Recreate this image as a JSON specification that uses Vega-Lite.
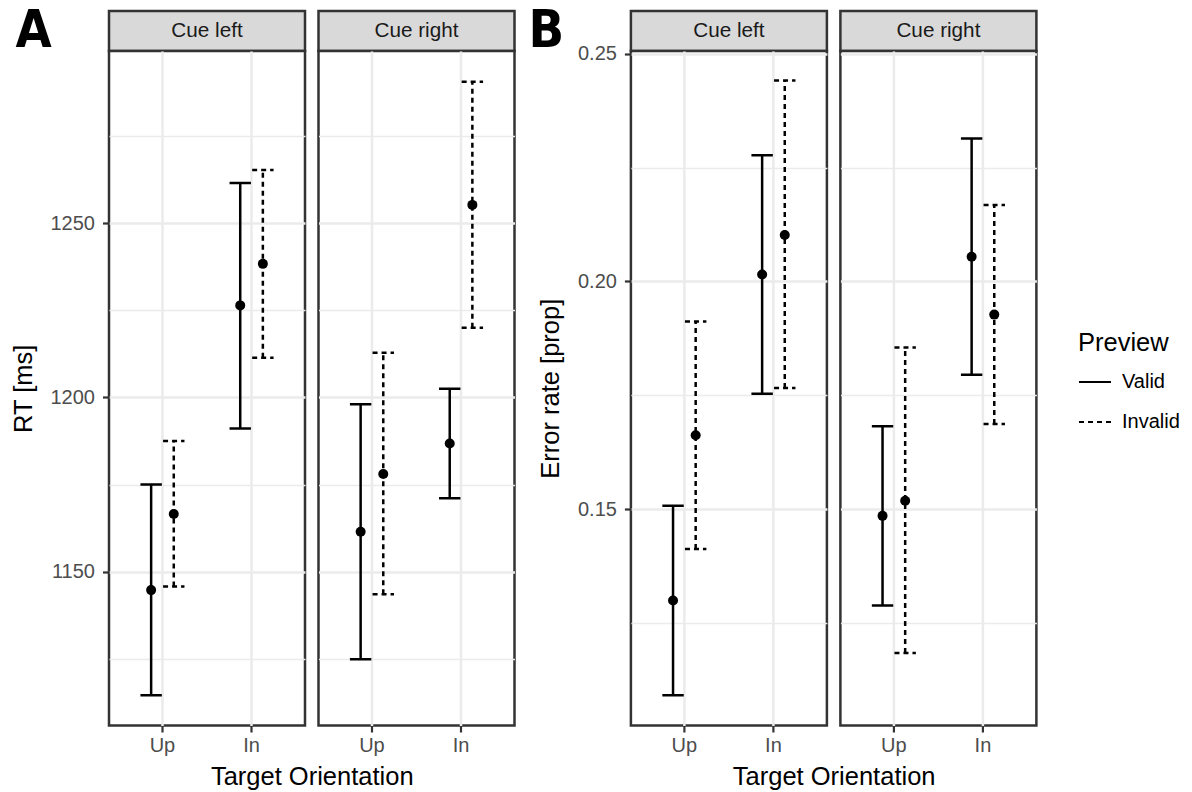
{
  "$schema": "https://vega.github.io/schema/vega-lite/v6.json",
  "padding": {"left": 9, "top": 3, "right": 5, "bottom": 0},
  "spacing": 10.9,
  "datasets": {
    "strips": [{"cue": "Cue left"}, {"cue": "Cue right"}],
    "rt": [
      {"cue": "Cue left", "orientation": "Up", "preview": "Valid", "mean": 1144.8, "lower": 1114.7, "upper": 1175.1},
      {"cue": "Cue left", "orientation": "Up", "preview": "Invalid", "mean": 1166.6, "lower": 1145.8, "upper": 1187.5},
      {"cue": "Cue left", "orientation": "In", "preview": "Valid", "mean": 1226.4, "lower": 1191.1, "upper": 1261.5},
      {"cue": "Cue left", "orientation": "In", "preview": "Invalid", "mean": 1238.3, "lower": 1211.4, "upper": 1265.2},
      {"cue": "Cue right", "orientation": "Up", "preview": "Valid", "mean": 1161.5, "lower": 1125.0, "upper": 1198.1},
      {"cue": "Cue right", "orientation": "Up", "preview": "Invalid", "mean": 1178.1, "lower": 1143.6, "upper": 1212.8},
      {"cue": "Cue right", "orientation": "In", "preview": "Valid", "mean": 1186.8, "lower": 1171.1, "upper": 1202.5},
      {"cue": "Cue right", "orientation": "In", "preview": "Invalid", "mean": 1255.2, "lower": 1220.0, "upper": 1290.5}
    ],
    "err": [
      {"cue": "Cue left", "orientation": "Up", "preview": "Valid", "mean": 0.1299, "lower": 0.1091, "upper": 0.1507},
      {"cue": "Cue left", "orientation": "Up", "preview": "Invalid", "mean": 0.1662, "lower": 0.1412, "upper": 0.1912},
      {"cue": "Cue left", "orientation": "In", "preview": "Valid", "mean": 0.2015, "lower": 0.1753, "upper": 0.2277},
      {"cue": "Cue left", "orientation": "In", "preview": "Invalid", "mean": 0.2102, "lower": 0.1766, "upper": 0.2441},
      {"cue": "Cue right", "orientation": "Up", "preview": "Valid", "mean": 0.1485, "lower": 0.1288, "upper": 0.1682},
      {"cue": "Cue right", "orientation": "Up", "preview": "Invalid", "mean": 0.1518, "lower": 0.1184, "upper": 0.1855},
      {"cue": "Cue right", "orientation": "In", "preview": "Valid", "mean": 0.2054, "lower": 0.1795, "upper": 0.2314},
      {"cue": "Cue right", "orientation": "In", "preview": "Invalid", "mean": 0.1927, "lower": 0.1687, "upper": 0.2168}
    ]
  },
  "hconcat": [
    {
      "columns": 2,
      "align": "each",
      "bounds": "flush",
      "spacing": {"row": 0, "column": 13.5},
      "resolve": {"scale": {"x": "independent", "y": "independent", "strokeDash": "shared"}, "legend": {"strokeDash": "shared"}},
      "concat": [
        {
          "width": 196, "height": 40,
          "view": {"fill": "#D9D9D9", "stroke": "#333333", "strokeWidth": 2.5},
          "title": {"text": "A", "orient": "left", "angle": 0, "anchor": "middle", "align": "right", "baseline": "middle", "offset": 21, "fontSize": 52, "font": "DejaVu Sans Condensed", "fontWeight": "bold", "color": "black"},
          "data": {"name": "strips"},
          "transform": [{"filter": "datum.cue === 'Cue left'"}],
          "mark": {"type": "text", "fontSize": 20.7, "color": "#1A1A1A", "baseline": "middle"},
          "encoding": {"text": {"field": "cue", "type": "nominal"}}
        },
        {
          "width": 196, "height": 40,
          "view": {"fill": "#D9D9D9", "stroke": "#333333", "strokeWidth": 2.5},
          "data": {"name": "strips"},
          "transform": [{"filter": "datum.cue === 'Cue right'"}],
          "mark": {"type": "text", "fontSize": 20.7, "color": "#1A1A1A", "baseline": "middle"},
          "encoding": {"text": {"field": "cue", "type": "nominal"}}
        },
        {
          "width": 196, "height": 674.5,
          "data": {"name": "rt"},
          "transform": [{"filter": "datum.cue === 'Cue left'"}],
          "encoding": {
            "x": {"field": "orientation", "type": "nominal", "sort": ["Up", "In"], "title": "Target Orientation",
                  "scale": {"type": "band", "paddingInner": 0.492, "paddingOuter": 0.346},
                  "axis": {"titleX": 202.75, "titleAlign": "center"}},
            "xOffset": {"field": "preview", "type": "nominal", "sort": ["Valid", "Invalid"], "scale": {"paddingInner": 0, "paddingOuter": 0}}
          },
          "layer": [
            {
              "mark": {"type": "rule", "color": "black", "strokeWidth": 2.5},
              "encoding": {
                "y": {"field": "lower", "type": "quantitative", "title": "RT [ms]",
                      "scale": {"domain": [1106, 1299.3], "nice": false, "zero": false},
                      "axis": {"values": [1125, 1150, 1175, 1200, 1225, 1250, 1275], "format": "d",
                               "labelExpr": "datum.value % 50 === 0 ? datum.label : ''",
                               "gridWidth": {"condition": {"test": "datum.value % 50 !== 0", "value": 1.3}, "value": 2.5},
                               "tickOpacity": {"condition": {"test": "datum.value % 50 !== 0", "value": 0}, "value": 1}}},
                "y2": {"field": "upper"},
                "strokeDash": {"field": "preview", "type": "nominal",
                               "scale": {"domain": ["Valid", "Invalid"], "range": [[1, 0], [5, 4]]},
                               "legend": {"title": "Preview", "orient": "none", "legendX": 969, "legendY": 319.5}}
              }
            },
            {
              "mark": {"type": "point", "shape": "M-1,0L1,0", "size": 458, "filled": false, "opacity": 1, "color": "black", "strokeWidth": 2.5},
              "encoding": {
                "y": {"field": "lower", "type": "quantitative", "title": "RT [ms]"},
                "strokeDash": {"condition": {"test": "datum.preview === 'Invalid'", "value": [5, 4]}, "value": [1, 0]}
              }
            },
            {
              "mark": {"type": "point", "shape": "M-1,0L1,0", "size": 458, "filled": false, "opacity": 1, "color": "black", "strokeWidth": 2.5},
              "encoding": {
                "y": {"field": "upper", "type": "quantitative", "title": "RT [ms]"},
                "strokeDash": {"condition": {"test": "datum.preview === 'Invalid'", "value": [5, 4]}, "value": [1, 0]}
              }
            },
            {
              "mark": {"type": "point", "shape": "circle", "size": 100, "filled": true, "opacity": 1, "color": "black"},
              "encoding": {"y": {"field": "mean", "type": "quantitative", "title": "RT [ms]"}}
            }
          ]
        },
        {
          "width": 196, "height": 674.5,
          "data": {"name": "rt"},
          "transform": [{"filter": "datum.cue === 'Cue right'"}],
          "encoding": {
            "x": {"field": "orientation", "type": "nominal", "sort": ["Up", "In"], "title": null,
                  "scale": {"type": "band", "paddingInner": 0.492, "paddingOuter": 0.346}},
            "xOffset": {"field": "preview", "type": "nominal", "sort": ["Valid", "Invalid"], "scale": {"paddingInner": 0, "paddingOuter": 0}}
          },
          "layer": [
            {
              "mark": {"type": "rule", "color": "black", "strokeWidth": 2.5},
              "encoding": {
                "y": {"field": "lower", "type": "quantitative",
                      "scale": {"domain": [1106, 1299.3], "nice": false, "zero": false},
                      "axis": {"values": [1125, 1150, 1175, 1200, 1225, 1250, 1275], "title": null, "labels": false, "ticks": false,
                               "gridWidth": {"condition": {"test": "datum.value % 50 !== 0", "value": 1.3}, "value": 2.5}}},
                "y2": {"field": "upper"},
                "strokeDash": {"field": "preview", "type": "nominal",
                               "scale": {"domain": ["Valid", "Invalid"], "range": [[1, 0], [5, 4]]},
                               "legend": {"title": "Preview", "orient": "none", "legendX": 969, "legendY": 319.5}}
              }
            },
            {
              "mark": {"type": "point", "shape": "M-1,0L1,0", "size": 458, "filled": false, "opacity": 1, "color": "black", "strokeWidth": 2.5},
              "encoding": {
                "y": {"field": "lower", "type": "quantitative"},
                "strokeDash": {"condition": {"test": "datum.preview === 'Invalid'", "value": [5, 4]}, "value": [1, 0]}
              }
            },
            {
              "mark": {"type": "point", "shape": "M-1,0L1,0", "size": 458, "filled": false, "opacity": 1, "color": "black", "strokeWidth": 2.5},
              "encoding": {
                "y": {"field": "upper", "type": "quantitative"},
                "strokeDash": {"condition": {"test": "datum.preview === 'Invalid'", "value": [5, 4]}, "value": [1, 0]}
              }
            },
            {
              "mark": {"type": "point", "shape": "circle", "size": 100, "filled": true, "opacity": 1, "color": "black"},
              "encoding": {"y": {"field": "mean", "type": "quantitative"}}
            }
          ]
        }
      ]
    },
    {
      "columns": 2,
      "align": "each",
      "bounds": "flush",
      "spacing": {"row": 0, "column": 13.5},
      "resolve": {"scale": {"x": "independent", "y": "independent", "strokeDash": "shared"}, "legend": {"strokeDash": "shared"}},
      "concat": [
        {
          "width": 196, "height": 40,
          "view": {"fill": "#D9D9D9", "stroke": "#333333", "strokeWidth": 2.5},
          "title": {"text": "B", "orient": "left", "angle": 0, "anchor": "middle", "align": "right", "baseline": "middle", "offset": 31, "fontSize": 52, "font": "DejaVu Sans Condensed", "fontWeight": "bold", "color": "black"},
          "data": {"name": "strips"},
          "transform": [{"filter": "datum.cue === 'Cue left'"}],
          "mark": {"type": "text", "fontSize": 20.7, "color": "#1A1A1A", "baseline": "middle"},
          "encoding": {"text": {"field": "cue", "type": "nominal"}}
        },
        {
          "width": 196, "height": 40,
          "view": {"fill": "#D9D9D9", "stroke": "#333333", "strokeWidth": 2.5},
          "data": {"name": "strips"},
          "transform": [{"filter": "datum.cue === 'Cue right'"}],
          "mark": {"type": "text", "fontSize": 20.7, "color": "#1A1A1A", "baseline": "middle"},
          "encoding": {"text": {"field": "cue", "type": "nominal"}}
        },
        {
          "width": 196, "height": 674.5,
          "data": {"name": "err"},
          "transform": [{"filter": "datum.cue === 'Cue left'"}],
          "encoding": {
            "x": {"field": "orientation", "type": "nominal", "sort": ["Up", "In"], "title": "Target Orientation",
                  "scale": {"type": "band", "paddingInner": 0.492, "paddingOuter": 0.346},
                  "axis": {"titleX": 202.75, "titleAlign": "center"}},
            "xOffset": {"field": "preview", "type": "nominal", "sort": ["Valid", "Invalid"], "scale": {"paddingInner": 0, "paddingOuter": 0}}
          },
          "layer": [
            {
              "mark": {"type": "rule", "color": "black", "strokeWidth": 2.5},
              "encoding": {
                "y": {"field": "lower", "type": "quantitative", "title": "Error rate [prop]",
                      "scale": {"domain": [0.10245, 0.2506], "nice": false, "zero": false},
                      "axis": {"values": [0.125, 0.15, 0.175, 0.2, 0.225, 0.25], "format": ".2f",
                               "labelExpr": "round(datum.value * 1000) % 50 === 0 ? datum.label : ''",
                               "gridWidth": {"condition": {"test": "round(datum.value * 1000) % 50 !== 0", "value": 1.3}, "value": 2.5},
                               "tickOpacity": {"condition": {"test": "round(datum.value * 1000) % 50 !== 0", "value": 0}, "value": 1}}},
                "y2": {"field": "upper"},
                "strokeDash": {"field": "preview", "type": "nominal",
                               "scale": {"domain": ["Valid", "Invalid"], "range": [[1, 0], [5, 4]]},
                               "legend": {"title": "Preview", "orient": "none", "legendX": 969, "legendY": 319.5}}
              }
            },
            {
              "mark": {"type": "point", "shape": "M-1,0L1,0", "size": 458, "filled": false, "opacity": 1, "color": "black", "strokeWidth": 2.5},
              "encoding": {
                "y": {"field": "lower", "type": "quantitative", "title": "Error rate [prop]"},
                "strokeDash": {"condition": {"test": "datum.preview === 'Invalid'", "value": [5, 4]}, "value": [1, 0]}
              }
            },
            {
              "mark": {"type": "point", "shape": "M-1,0L1,0", "size": 458, "filled": false, "opacity": 1, "color": "black", "strokeWidth": 2.5},
              "encoding": {
                "y": {"field": "upper", "type": "quantitative", "title": "Error rate [prop]"},
                "strokeDash": {"condition": {"test": "datum.preview === 'Invalid'", "value": [5, 4]}, "value": [1, 0]}
              }
            },
            {
              "mark": {"type": "point", "shape": "circle", "size": 100, "filled": true, "opacity": 1, "color": "black"},
              "encoding": {"y": {"field": "mean", "type": "quantitative", "title": "Error rate [prop]"}}
            }
          ]
        },
        {
          "width": 196, "height": 674.5,
          "data": {"name": "err"},
          "transform": [{"filter": "datum.cue === 'Cue right'"}],
          "encoding": {
            "x": {"field": "orientation", "type": "nominal", "sort": ["Up", "In"], "title": null,
                  "scale": {"type": "band", "paddingInner": 0.492, "paddingOuter": 0.346}},
            "xOffset": {"field": "preview", "type": "nominal", "sort": ["Valid", "Invalid"], "scale": {"paddingInner": 0, "paddingOuter": 0}}
          },
          "layer": [
            {
              "mark": {"type": "rule", "color": "black", "strokeWidth": 2.5},
              "encoding": {
                "y": {"field": "lower", "type": "quantitative",
                      "scale": {"domain": [0.10245, 0.2506], "nice": false, "zero": false},
                      "axis": {"values": [0.125, 0.15, 0.175, 0.2, 0.225, 0.25], "title": null, "labels": false, "ticks": false,
                               "gridWidth": {"condition": {"test": "round(datum.value * 1000) % 50 !== 0", "value": 1.3}, "value": 2.5}}},
                "y2": {"field": "upper"},
                "strokeDash": {"field": "preview", "type": "nominal",
                               "scale": {"domain": ["Valid", "Invalid"], "range": [[1, 0], [5, 4]]},
                               "legend": {"title": "Preview", "orient": "none", "legendX": 969, "legendY": 319.5}}
              }
            },
            {
              "mark": {"type": "point", "shape": "M-1,0L1,0", "size": 458, "filled": false, "opacity": 1, "color": "black", "strokeWidth": 2.5},
              "encoding": {
                "y": {"field": "lower", "type": "quantitative"},
                "strokeDash": {"condition": {"test": "datum.preview === 'Invalid'", "value": [5, 4]}, "value": [1, 0]}
              }
            },
            {
              "mark": {"type": "point", "shape": "M-1,0L1,0", "size": 458, "filled": false, "opacity": 1, "color": "black", "strokeWidth": 2.5},
              "encoding": {
                "y": {"field": "upper", "type": "quantitative"},
                "strokeDash": {"condition": {"test": "datum.preview === 'Invalid'", "value": [5, 4]}, "value": [1, 0]}
              }
            },
            {
              "mark": {"type": "point", "shape": "circle", "size": 100, "filled": true, "opacity": 1, "color": "black"},
              "encoding": {"y": {"field": "mean", "type": "quantitative"}}
            }
          ]
        }
      ]
    }
  ],
  "resolve": {"scale": {"x": "independent", "y": "independent", "strokeDash": "shared"}, "legend": {"strokeDash": "shared"}},
  "config": {
    "font": "Liberation Sans",
    "background": "white",
    "view": {"stroke": "#333333", "strokeWidth": 2.5, "fill": "white"},
    "axis": {
      "domain": false,
      "grid": true,
      "gridColor": "#EBEBEB",
      "gridWidth": 2.5,
      "tickColor": "#333333",
      "tickWidth": 2.2,
      "tickSize": 6.5,
      "labelColor": "#4D4D4D",
      "labelFontSize": 20,
      "labelPadding": 8,
      "titleColor": "black",
      "titleFontSize": 25.5,
      "titleFontWeight": "normal",
      "titlePadding": 14
    },
    "axisX": {"labelAngle": 0, "labelPadding": 3, "titlePadding": 9},
    "legend": {
      "symbolType": "stroke",
      "symbolSize": 1024,
      "symbolStrokeWidth": 2,
      "symbolStrokeColor": "black",
      "labelFontSize": 20,
      "labelColor": "black",
      "labelOffset": 10,
      "titleFontSize": 25.5,
      "titleFontWeight": "normal",
      "titleColor": "black",
      "titlePadding": 9,
      "rowPadding": 13,
      "padding": 0
    }
  }
}
